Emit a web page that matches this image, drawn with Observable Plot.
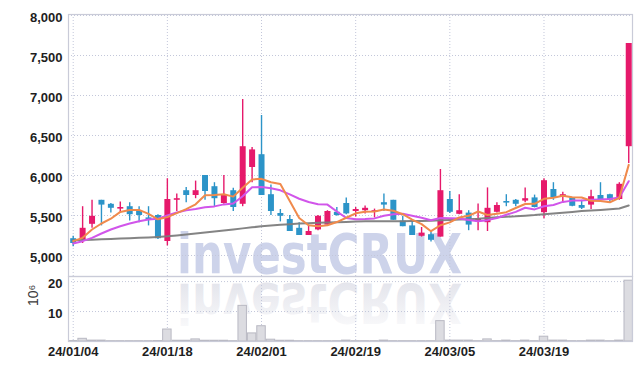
<!DOCTYPE html>
<html><head><meta charset="utf-8">
<script src="https://cdn.jsdelivr.net/npm/d3@7"></script>
<script src="https://cdn.jsdelivr.net/npm/@observablehq/plot@0.6"></script>
<style>
html,body{margin:0;padding:0;background:#fff;}
#wrap{position:relative;width:642px;height:370px;overflow:hidden;}
#wrap > *{position:absolute;left:0;}
</style></head><body>
<div id="wrap">
<svg id="wm" width="642" height="370" style="top:0">
  <defs>
    <linearGradient id="fade" x1="0" y1="0" x2="0" y2="1">
      <stop offset="0" stop-color="#dfe0e8" stop-opacity="0.1"/>
      <stop offset="1" stop-color="#dfe0e8" stop-opacity="1"/>
    </linearGradient>
  </defs>
  <text x="177" y="273" font-family="'DejaVu Sans',sans-serif" font-weight="bold" font-size="55" textLength="285" lengthAdjust="spacingAndGlyphs" fill="#cdd3ea">investCRUX</text>
  <text x="177" y="273" transform="translate(0,557) scale(1,-1)" font-family="'DejaVu Sans',sans-serif" font-weight="bold" font-size="55" textLength="285" lengthAdjust="spacingAndGlyphs" fill="url(#fade)">investCRUX</text>
</svg>
<div id="price" style="top:0"></div>
<div id="vol" style="top:276px"></div>
</div>
<script>
// ---- data ----
const openP  = [5210,5190,5390,5690,5640,5580,5610,5550,5470,5500,5175,5690,5810,5750,6000,5860,5650,5810,5640,6100,6260,5760,5525,5450,5340,5250,5320,5380,5540,5650,5550,5560,5540,5660,5690,5430,5370,5240,5260,5230,5700,5515,5530,5420,5410,5540,5675,5690,5680,5720,5535,5825,5735,5720,5625,5630,5750,5760,5700,6360];
const highP  = [5240,5610,5690,5690,5650,5670,5660,5610,5610,5510,5960,5770,5850,5930,6000,5910,6000,5840,6950,6350,6750,5880,5575,5500,5410,5380,5500,5560,5600,5720,5600,5620,5580,5770,5690,5490,5450,5350,5300,6075,5800,5760,5560,5645,5845,5660,5760,5700,5845,5755,5960,5910,5790,5725,5690,5815,5910,5765,5910,7650];
const lowP   = [5110,5150,5340,5370,5530,5545,5430,5410,5370,5200,5120,5550,5660,5710,5690,5610,5640,5550,5610,5910,5750,5500,5420,5300,5250,5250,5310,5370,5490,5510,5480,5520,5470,5550,5440,5360,5250,5230,5170,5230,5525,5510,5310,5310,5300,5530,5610,5610,5660,5595,5460,5690,5650,5610,5575,5575,5690,5650,5690,6150];
const closeP = [5150,5340,5490,5630,5590,5600,5510,5500,5440,5210,5700,5710,5750,5810,5800,5710,5760,5600,6360,6320,5750,5550,5490,5300,5250,5300,5490,5550,5500,5520,5575,5590,5560,5630,5440,5360,5250,5280,5190,5810,5540,5560,5380,5460,5590,5625,5655,5640,5710,5600,5935,5725,5760,5615,5590,5735,5700,5690,5890,7650];
// volume, millions of shares
const volume = [0.15,0.9,0.3,0.3,0.1,0.1,0.1,0.1,0.1,0.15,4.0,0.25,0.25,0.7,0.25,0.25,0.25,0.1,11.9,2.7,5.1,0.6,0.25,0.25,0.1,0.1,0.1,0.1,0.1,0.3,0.1,0.1,0.1,0.3,0.1,0.1,0.1,0.1,0.1,6.8,0.3,0.3,0.3,0.1,0.7,0.1,0.3,0.1,0.3,0.1,1.6,0.3,0.3,0.1,0.1,0.3,0.3,0.1,0.3,20.3];
// moving-average lines
const maShort = [5179,5221,5325,5400,5460,5545,5570,5570,5520,5452,5480,5530,5580,5640,5754,5756,5766,5736,5846,5950,5958,5916,5894,5682,5468,5378,5366,5378,5418,5472,5527,5547,5549,5575,5559,5516,5448,5392,5304,5378,5414,5476,5496,5550,5506,5523,5542,5594,5644,5646,5708,5722,5746,5727,5725,5685,5680,5666,5721,6133];
const maMid   = [5150,5179,5221,5275,5325,5366,5400,5429,5450,5460,5501,5538,5564,5582,5603,5614,5639,5649,5741,5852,5857,5841,5815,5764,5709,5668,5641,5636,5550,5470,5453,5457,5464,5497,5516,5522,5498,5471,5440,5469,5465,5462,5444,5427,5442,5469,5509,5545,5597,5576,5616,5632,5670,5686,5686,5697,5701,5706,5724,5929];
const maLong  = [5190,5194,5198,5203,5207,5211,5216,5221,5226,5232,5240,5251,5263,5275,5287,5299,5312,5325,5339,5352,5365,5374,5383,5392,5400,5404,5408,5412,5415,5420,5425,5427,5428,5428,5429,5429,5430,5432,5435,5440,5445,5450,5454,5458,5468,5478,5485,5490,5498,5505,5515,5525,5535,5545,5555,5563,5570,5578,5588,5625];
// axis ticks
const tickIdx = [0,10,20,30,40,50];
const tickLabels = ["24/01/04","24/01/18","24/02/01","24/02/19","24/03/05","24/03/19"];
const priceTicks = [5000,5500,6000,6500,7000,7500,8000];
const volTicks = [10,20];

// ---- build ----
const UP = "#e6196b", DOWN = "#2c94c8";
const GRID = "#c3c7da", FRAME = "#c9cbd8";
const FONT = "'Liberation Sans',Arial,sans-serif";
const rows = closeP.map((c, i) => ({
  i, open: openP[i], high: highP[i], low: lowP[i], close: c, vol: volume[i],
  col: c >= openP[i] ? UP : DOWN,
  s: maShort[i], m: maMid[i], l: maLong[i]
}));
const xDomain = [-0.5, 59.4];

const price = Plot.plot({
  width: 642, height: 276,
  marginTop: 14, marginBottom: 0, marginLeft: 68, marginRight: 10,
  style: {background: "transparent", fontFamily: FONT, overflow: "visible"},
  color: {type: "identity"},
  x: {domain: xDomain, axis: null},
  y: {domain: [4737.5, 8012.5], axis: null},
  marks: [
    Plot.gridY(priceTicks, {stroke: GRID, strokeOpacity: 1, strokeDasharray: "1,2"}),
    Plot.gridX(tickIdx, {stroke: GRID, strokeOpacity: 1, strokeDasharray: "1,2"}),
    Plot.frame({stroke: FRAME, strokeWidth: 1.2}),
    Plot.ruleX(rows, {x: "i", y1: "low", y2: "high", stroke: "col", strokeWidth: 1.4}),
    Plot.ruleX(rows, {x: "i", y1: "open", y2: "close", stroke: "col", strokeWidth: 6}),
    Plot.line(rows, {x: "i", y: "l", stroke: "#7d7d7d", strokeWidth: 2, strokeOpacity: 0.95}),
    Plot.line(rows, {x: "i", y: "m", stroke: "#d155ea", strokeWidth: 2}),
    Plot.line(rows, {x: "i", y: "s", stroke: "#f08a4c", strokeWidth: 2}),
    Plot.axisY(priceTicks, {tickFormat: d3.format(","), tickSize: 0, tickPadding: 6, dy: 2,
      fontSize: 13, fontWeight: "bold", fill: "#1e1e1e", label: null})
  ]
});
document.getElementById("price").appendChild(price);

const vol = Plot.plot({
  width: 642, height: 94,
  marginTop: 0, marginBottom: 29, marginLeft: 68, marginRight: 10,
  style: {background: "transparent", fontFamily: FONT, overflow: "visible"},
  x: {domain: xDomain, axis: null},
  y: {domain: [0, 21.7], axis: null},
  marks: [
    Plot.gridY(volTicks, {stroke: GRID, strokeOpacity: 1, strokeDasharray: "1,2"}),
    Plot.gridX(tickIdx, {stroke: GRID, strokeOpacity: 1, strokeDasharray: "1,2"}),
    Plot.rectY(rows, {x1: d => d.i - 0.45, x2: d => d.i + 0.45, y: "vol", fill: "#dcdce1", stroke: "#b9b9c3", strokeWidth: 1}),
    Plot.frame({stroke: FRAME, strokeWidth: 1.2}),
    Plot.axisY(volTicks, {tickSize: 0, tickPadding: 6, dy: 2, fontSize: 13, fontWeight: "bold", fill: "#1e1e1e", label: null}),
    Plot.axisX(tickIdx, {tickFormat: d => tickLabels[tickIdx.indexOf(d)], tickSize: 0, tickPadding: 5,
      fontSize: 13, fontWeight: "bold", fill: "#1e1e1e", label: null}),
    Plot.text(["10⁶"], {text: d => d, frameAnchor: "left", rotate: -90, dx: -35, dy: -3,
      fontSize: 14, fontWeight: "normal", fill: "#3a3a3a"})
  ]
});
document.getElementById("vol").appendChild(vol);
</script>
</body></html>
